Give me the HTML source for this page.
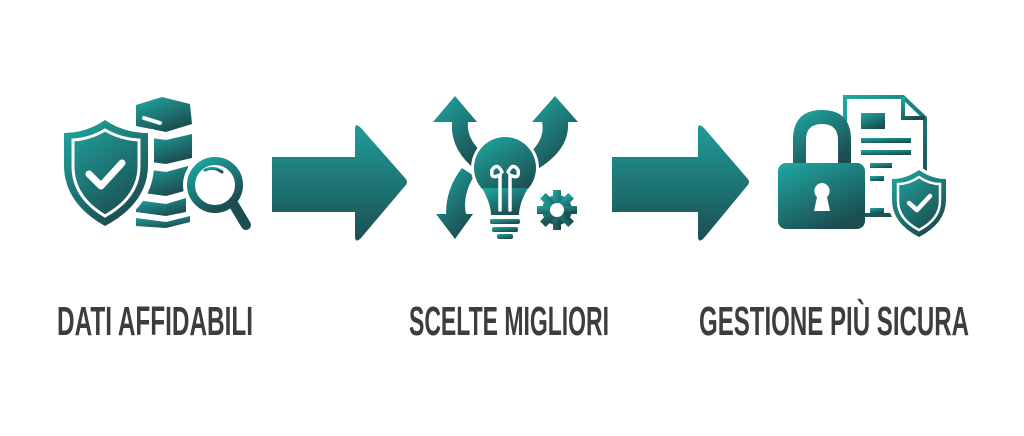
<!DOCTYPE html>
<html><head><meta charset="utf-8"><style>
html,body{margin:0;padding:0;background:#fff;width:1024px;height:436px;overflow:hidden}
</style></head><body>
<svg width="1024" height="436" viewBox="0 0 1024 436" xmlns="http://www.w3.org/2000/svg">
<defs>
<linearGradient id="g" x1="0" y1="0" x2="0.6" y2="1">
<stop offset="0" stop-color="#1fa9a3"/><stop offset="1" stop-color="#1c4d50"/></linearGradient>
<linearGradient id="ga" x1="0" y1="0" x2="0" y2="1">
<stop offset="0" stop-color="#1f9c98"/><stop offset="1" stop-color="#1c4f52"/></linearGradient>
</defs>
<rect width="1024" height="436" fill="#fff"/>

<path d="M272 157 H355 V129 Q355 122 361 128 L405 178 Q409 182 405 186 L361 238 Q355 244 355 236 V212 H272 Z" fill="url(#ga)"/>
<path d="M612 157 H698 V129 Q698 122 704 128 L747 178 Q751 182 747 186 L704 238 Q698 244 698 236 V212 H612 Z" fill="url(#ga)"/>

<!-- Icon 1 -->
<g fill="url(#g)">
 <path d="M136 105 L162 97 L190 104 L192 124 L166 132 L136 126 Z"/>
 <path d="M144 118 L160 123" stroke="#fff" stroke-width="4" stroke-linecap="round"/>
 <path d="M136 136 L166 140 L192 134 V158 L166 164 L136 160 Z"/>
 <path d="M136 168 L166 172 L188 166 V190 L166 196 L136 192 Z"/>
 <path d="M136 200 L166 204 L186 198 V212 L166 216 L136 212 Z"/>
 <path d="M136 218 L166 222 L190 216 V222 L166 228 L136 226 Z"/>
 <path d="M105 115 Q84 129 58 129 V165 Q58 207 105 232 Q154 207 154 165 V129 Q126 129 105 115 Z" fill="#fff"/>
 <path d="M105 120 Q86 133 64 133 V165 Q64 203 105 226 Q148 203 148 165 V133 Q124 133 105 120 Z"/>
 <path d="M105 130 Q90 139 73 140 V166 Q73 197 105 216 Q139 197 139 166 V140 Q120 139 105 130 Z" fill="none" stroke="#fff" stroke-width="3"/>
 <path d="M89 174 L101 186 L122 163" fill="none" stroke="#fff" stroke-width="7" stroke-linecap="round" stroke-linejoin="round"/>
 <circle cx="215" cy="185" r="32" fill="#fff"/>
 <circle cx="215" cy="185" r="24" fill="none" stroke="url(#g)" stroke-width="8"/>
 <path d="M234 205 L246 225" stroke="#1c4d50" stroke-width="10" stroke-linecap="round"/>
 <path d="M205 170 Q214 166 222 172" fill="none" stroke="url(#g)" stroke-width="3" stroke-linecap="round"/>
</g>

<!-- Icon 2 -->
<g fill="url(#g)">
 <path d="M455 96 L477 122 H468 Q466 140 486 156 L476 170 Q450 150 452 122 H433 Z"/>
 <path d="M555 96 L578 122 H568 Q570 150 536 170 L526 156 Q546 140 542 122 H532 Z"/>
 <path d="M474 176 Q462 196 466 214 H473 L455 239 L436 214 H446 Q446 188 462 168 Z"/>
 <circle cx="505" cy="168" r="34" fill="#fff"/>
 <circle cx="505" cy="168" r="31"/>
 <path d="M482 188 Q491 204 491 215 H519 Q519 204 528 188 Z"/>
 <rect x="490" y="219" width="30" height="5" rx="2"/>
 <rect x="492" y="227" width="26" height="5" rx="2"/>
 <rect x="497" y="234" width="16" height="5" rx="2"/>
 <path d="M500 210 V175 Q490 180 492 170 Q497 162 502 172 M510 210 V175 Q520 180 518 170 Q513 162 508 172" fill="none" stroke="#fff" stroke-width="3.5" stroke-linecap="round"/>
 <circle cx="557" cy="210" r="22" fill="#fff"/>
 <g transform="translate(557 210)">
  <circle r="15"/>
  <rect x="-4" y="-20" width="8" height="40"/><rect x="-20" y="-4" width="40" height="8"/>
  <rect x="-4" y="-20" width="8" height="40" transform="rotate(45)"/><rect x="-4" y="-20" width="8" height="40" transform="rotate(-45)"/>
  <circle r="7" fill="#fff"/>
 </g>
</g>

<!-- Icon 3 -->
<g fill="url(#g)">
 <path d="M845 97 H903 L925 118 V215 H845 Z" fill="none" stroke="url(#g)" stroke-width="4"/>
 <path d="M903 97 V118 H925" fill="none" stroke="url(#g)" stroke-width="4"/>
 <rect x="861" y="113" width="24" height="16"/>
 <rect x="861" y="138" width="50" height="5"/>
 <rect x="861" y="150" width="50" height="5"/>
 <rect x="870" y="163" width="22" height="5"/>
 <rect x="870" y="176" width="14" height="5"/>
 <rect x="870" y="208" width="14" height="5"/>
 <path d="M793 165 V140 Q793 110 822 110 Q851 110 851 140 V165 H838 V140 Q838 124 822 124 Q806 124 806 140 V165 Z"/>
 <rect x="778" y="163" width="87" height="66" rx="8"/>
 <path d="M822 183 a8 8 0 0 1 5 14 l3 14 h-16 l3 -14 a8 8 0 0 1 5 -14 Z" fill="#fff"/>
 <path d="M919 166 Q905 176 888 176 V200 Q888 226 919 241 Q950 226 950 200 V176 Q933 176 919 166 Z" fill="#fff"/>
 <path d="M919 170 Q906 179 892 179 V200 Q892 223 919 237 Q946 223 946 200 V179 Q932 179 919 170 Z"/>
 <path d="M919 177 Q909 184 898 184 V201 Q898 219 919 230 Q940 219 940 201 V184 Q929 184 919 177 Z" fill="none" stroke="#fff" stroke-width="2.5"/>
 <path d="M909 203 L917 210 L930 196" fill="none" stroke="#fff" stroke-width="4.5" stroke-linecap="round" stroke-linejoin="round"/>
</g>

<g font-family="'Liberation Sans', sans-serif" font-weight="bold" font-size="41" fill="#3b3d40">
 <text x="57" y="335" textLength="196" lengthAdjust="spacingAndGlyphs">DATI AFFIDABILI</text>
 <text x="409" y="335" textLength="200" lengthAdjust="spacingAndGlyphs">SCELTE MIGLIORI</text>
 <text x="699" y="335" textLength="270" lengthAdjust="spacingAndGlyphs">GESTIONE PIÙ SICURA</text>
</g>
</svg>
</body></html>
